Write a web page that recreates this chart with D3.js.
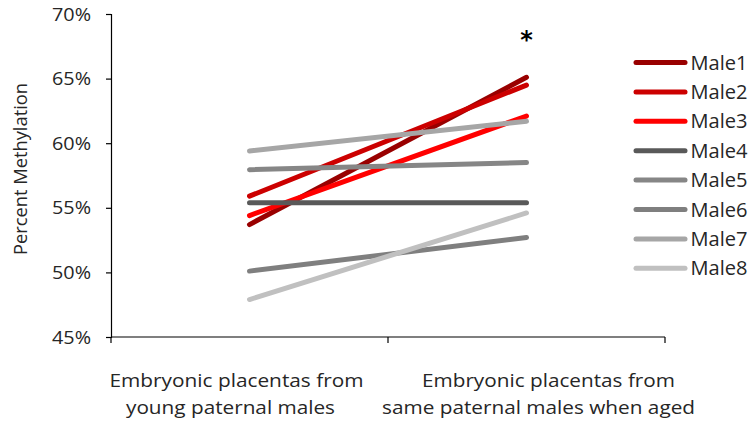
<!DOCTYPE html>
<html>
<head>
<meta charset="utf-8">
<script src="https://cdn.jsdelivr.net/npm/d3@7"></script>
<style>
  html, body { margin: 0; padding: 0; background: #fff; }
  svg { display: block; font-family: "Open Sans", Lato, sans-serif; }
</style>
</head>
<body>
<svg id="chart" width="751" height="426"></svg>
<script>
// Percent methylation per paternal male, young vs. aged
const categories = [
  ["Embryonic placentas from", "young paternal males"],
  ["Embryonic placentas from", "same paternal males when aged"]
];
const males = ["Male1", "Male2", "Male3", "Male4", "Male5", "Male6", "Male7", "Male8"];
const youngValues = [53.7, 55.9, 54.4, 55.4, 57.95, 50.1, 59.4, 47.9];
const agedValues  = [65.1, 64.5, 62.1, 55.4, 58.5, 52.7, 61.7, 54.6];
const lineColors = ["#990000", "#cc0000", "#ff0000", "#595959", "#868686", "#7f7f7f", "#a6a6a6", "#c0c0c0"];
const yTicks = [45, 50, 55, 60, 65, 70];
const yTitle = "Percent Methylation";
const significance = "*";

// Wrapped category label layout: per-line centre shift and width
const labelShift = [[-13, -19], [22, 12]];
const labelWidth = [[254, 209], [253, 313]];

const svg = d3.select("#chart");
const plotLeft = 111, plotRight = 665, plotTop = 14, plotBottom = 337;
const textColor = "#262626";
const font = "'Open Sans', sans-serif";

const y = d3.scaleLinear().domain([45, 70]).range([plotBottom, plotTop]);
const x = d3.scaleBand().domain(d3.range(categories.length)).range([plotLeft, plotRight]);
const cx = i => x(i) + x.bandwidth() / 2;

// Y axis
const yAxis = d3.axisLeft(y).tickValues(yTicks).tickSize(5).tickFormat(d => d + "%");
const gy = svg.append("g").attr("transform", `translate(${plotLeft},0)`).call(yAxis);
gy.select(".domain").attr("stroke", "#000").attr("stroke-width", 1.2);
gy.selectAll(".tick line").attr("stroke", "#000").attr("stroke-width", 1.2);
gy.selectAll(".tick text").attr("font-size", 19).attr("fill", textColor).attr("x", -20)
  .attr("font-family", font)
  .attr("textLength", 39).attr("lengthAdjust", "spacingAndGlyphs");

// X axis: tick marks at category boundaries
svg.append("line").attr("x1", plotLeft).attr("x2", plotRight).attr("y1", plotBottom).attr("y2", plotBottom)
  .attr("stroke", "#000").attr("stroke-width", 1.2);
const boundaries = [plotLeft, plotLeft + x.bandwidth(), plotRight];
svg.selectAll(".xt").data(boundaries).join("line")
  .attr("x1", d => d).attr("x2", d => d).attr("y1", plotBottom).attr("y2", plotBottom + 6)
  .attr("stroke", "#000").attr("stroke-width", 1.2);

// Category labels
categories.forEach((lines, i) => {
  lines.forEach((ln, j) => {
    svg.append("text").attr("text-anchor", "middle").attr("font-size", 18.5)
      .attr("fill", textColor).attr("font-family", font)
      .attr("x", cx(i) + labelShift[i][j]).attr("y", 387 + j * 26.5)
      .attr("textLength", labelWidth[i][j]).attr("lengthAdjust", "spacingAndGlyphs")
      .text(ln);
  });
});

// Y title
svg.append("text")
  .attr("transform", `translate(26.5,169) rotate(-90)`)
  .attr("text-anchor", "middle").attr("font-size", 19).attr("fill", textColor)
  .attr("font-family", font)
  .attr("textLength", 172).attr("lengthAdjust", "spacingAndGlyphs")
  .text(yTitle);

// Series lines
const lineGen = d3.line().x((d, i) => cx(i)).y(d => y(d));
males.forEach((m, k) => {
  svg.append("path")
    .attr("d", lineGen([youngValues[k], agedValues[k]]))
    .attr("fill", "none").attr("stroke", lineColors[k])
    .attr("stroke-width", 5).attr("stroke-linecap", "round");
});

// Significance marker above aged group
svg.append("text").attr("x", cx(1)).attr("y", 48).attr("text-anchor", "middle")
  .attr("font-size", 24).attr("font-weight", "bold").attr("fill", "#000")
  .attr("font-family", "DejaVu Sans, sans-serif")
  .text(significance);

// Legend
const legend = svg.append("g").attr("transform", "translate(636,62.5)");
males.forEach((m, k) => {
  const g = legend.append("g").attr("transform", `translate(0,${k * 29.4})`);
  g.append("line").attr("x1", 0).attr("x2", 49).attr("y1", 0).attr("y2", 0)
    .attr("stroke", lineColors[k]).attr("stroke-width", 5).attr("stroke-linecap", "round");
  g.append("text").attr("x", 54.5).attr("y", 7).attr("font-size", 20).attr("fill", textColor)
    .attr("font-family", font)
    .attr("textLength", 57).attr("lengthAdjust", "spacingAndGlyphs")
    .text(m);
});
</script>
</body>
</html>
